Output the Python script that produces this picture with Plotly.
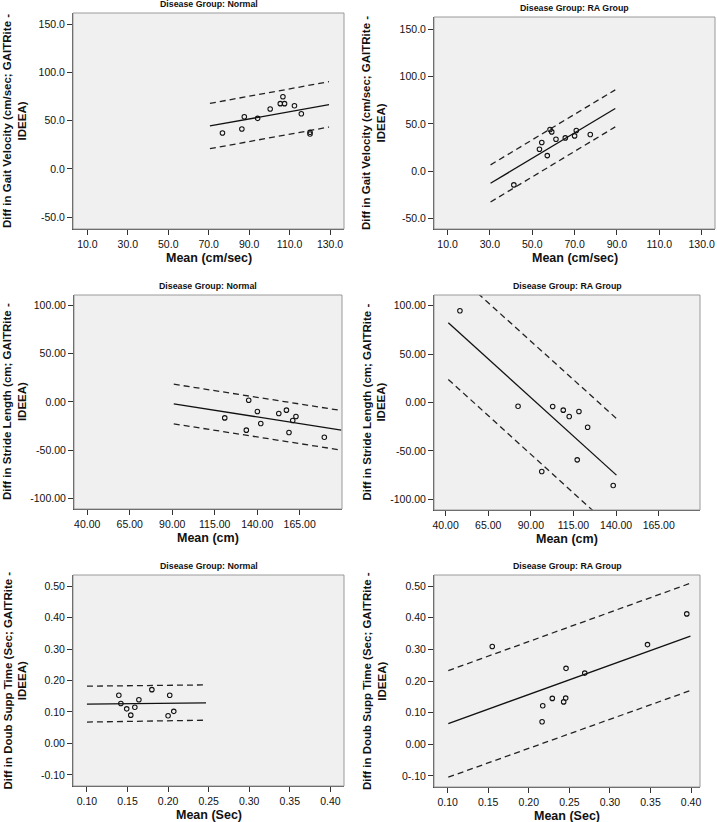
import plotly.graph_objects as go

W, H = 717, 822

# ---------------- data ----------------
# Panel 1: Gait velocity, Normal
gv_norm_x = [76.8, 86.4, 87.6, 94.2, 100.4, 105.4, 106.7, 107.5, 112.4, 115.8, 120.1, 120.1]
gv_norm_y = [37.2, 41.4, 54.1, 52.4, 62.1, 67.6, 74.8, 67.6, 65.5, 57.2, 37.9, 36.2]
gv_norm_fit_x = [70.6, 129.5]
gv_norm_fit_y = [44.5, 66.6]
gv_norm_up_y = [67.9, 90.3]
gv_norm_lo_y = [21.0, 43.4]

# Panel 2: Gait velocity, RA
gv_ra_x = [41.3, 53.4, 54.5, 57.1, 58.4, 59.2, 61.2, 65.6, 70.0, 70.8, 77.4]
gv_ra_y = [-14.4, 23.2, 30.3, 16.5, 44.0, 41.5, 33.8, 35.2, 37.3, 43.0, 38.7]
gv_ra_fit_x = [30.3, 89.2]
gv_ra_fit_y = [-12.7, 66.2]
gv_ra_up_y = [6.7, 85.9]
gv_ra_lo_y = [-32.4, 46.8]

# Panel 3: Stride length, Normal
sl_norm_x = [120.9, 133.6, 135.0, 140.1, 142.1, 152.7, 157.2, 158.7, 160.9, 162.8, 179.5]
sl_norm_y = [-16.6, -29.3, 1.7, -10.0, -22.4, -12.1, -8.6, -31.7, -19.3, -15.2, -36.6]
sl_norm_fit_x = [90.9, 189.5]
sl_norm_fit_y = [-2.1, -29.3]
sl_norm_up_y = [18.3, -9.0]
sl_norm_lo_y = [-22.8, -50.0]

# Panel 4: Stride length, RA
sl_ra_x = [48.4, 82.5, 96.4, 102.8, 109.0, 112.5, 117.2, 118.2, 123.3, 138.3]
sl_ra_y = [94.7, -3.8, -71.3, -4.1, -7.9, -14.5, -59.2, -9.3, -25.5, -85.7]
sl_ra_fit_x = [41.6, 140.2]
sl_ra_fit_y = [82.3, -75.0]
sl_ra_up_y = [140.2, -16.5]
sl_ra_lo_y = [23.8, -133.7]

# Panel 5: Double support time, Normal
ds_norm_x = [0.1393, 0.1418, 0.149, 0.154, 0.159, 0.164, 0.180, 0.200, 0.202, 0.207]
ds_norm_y = [0.1534, 0.127, 0.110, 0.090, 0.115, 0.139, 0.171, 0.088, 0.153, 0.102]
ds_norm_fit_x = [0.100, 0.2467]
ds_norm_fit_y = [0.125, 0.129]
ds_norm_up_y = [0.182, 0.186]
ds_norm_lo_y = [0.068, 0.074]

# Panel 6: Double support time, RA
ds_ra_x = [0.155, 0.2164, 0.2172, 0.229, 0.243, 0.2455, 0.2459, 0.269, 0.3463, 0.3947]
ds_ra_y = [0.309, 0.071, 0.122, 0.145, 0.134, 0.146, 0.240, 0.225, 0.315, 0.412]
ds_ra_fit_x = [0.1008, 0.3992]
ds_ra_fit_y = [0.0656, 0.342]
ds_ra_up_y = [0.233, 0.509]
ds_ra_lo_y = [-0.104, 0.170]

# tick labels
gv_xticks = [10, 30, 50, 70, 90, 110, 130]
gv_xlabels = ["10.0", "30.0", "50.0", "70.0", "90.0", "110.0", "130.0"]
gv_yticks = [-50, 0, 50, 100, 150]
gv_ylabels = ["-50.0", "0.0", "50.0", "100.0", "150.0"]
sl_xticks = [40, 65, 90, 115, 140, 165]
sl_xlabels = ["40.00", "65.00", "90.00", "115.00", "140.00", "165.00"]
sl_yticks = [-100, -50, 0, 50, 100]
sl_ylabels = ["-100.00", "-50.00", "0.00", "50.00", "100.00"]
ds_xticks = [0.10, 0.15, 0.20, 0.25, 0.30, 0.35, 0.40]
ds_xlabels = ["0.10", "0.15", "0.20", "0.25", "0.30", "0.35", "0.40"]
ds_yticks = [-0.10, 0.0, 0.10, 0.20, 0.30, 0.40, 0.50]
ds_ylabels_norm = ["-0.10", "0.00", "0.10", "0.20", "0.30", "0.40", "0.50"]
ds_ylabels_ra = ["0-.10", "0.00", "0.10", "0.20", "0.30", "0.40", "0.50"]

titles = ["Disease Group: Normal", "Disease Group: RA Group"]
gv_ytitle = "Diff in Gait Velocity (cm/sec; GAITRite -<br>IDEEA)"
sl_ytitle = "Diff in Stride Length (cm; GAITRite -<br>IDEEA)"
ds_ytitle = "Diff in Doub Supp Time (Sec; GAITRite -<br>IDEEA)"
gv_xtitle = "Mean (cm/sec)"
sl_xtitle = "Mean (cm)"
ds_xtitle = "Mean (Sec)"

# ---------------- layout ----------------
panels = [
    dict(px=(73, 344), py=(13, 229), xr=(2.9, 136.9), yr=(-62.1, 161.4), ytx=15,
         x=gv_norm_x, y=gv_norm_y, fx=gv_norm_fit_x, fy=gv_norm_fit_y, up=gv_norm_up_y, lo=gv_norm_lo_y,
         xt=gv_xticks, xl=gv_xlabels, yt=gv_yticks, yl=gv_ylabels, title=titles[0],
         ytitle=gv_ytitle, xtitle=gv_xtitle),
    dict(px=(434, 715), py=(17, 229), xr=(3.6, 136.3), yr=(-60.9, 162.7), ytx=374,
         x=gv_ra_x, y=gv_ra_y, fx=gv_ra_fit_x, fy=gv_ra_fit_y, up=gv_ra_up_y, lo=gv_ra_lo_y,
         xt=gv_xticks, xl=gv_xlabels, yt=gv_yticks, yl=gv_ylabels, title=titles[1],
         ytitle=gv_ytitle, xtitle=gv_xtitle),
    dict(px=(74, 342), py=(295, 509), xr=(32.2, 189.9), yr=(-111.0, 110.7), ytx=15,
         x=sl_norm_x, y=sl_norm_y, fx=sl_norm_fit_x, fy=sl_norm_fit_y, up=sl_norm_up_y, lo=sl_norm_lo_y,
         xt=sl_xticks, xl=sl_xlabels, yt=sl_yticks, yl=sl_ylabels, title=titles[0],
         ytitle=sl_ytitle, xtitle=sl_xtitle),
    dict(px=(434, 700), py=(295, 510), xr=(33.2, 189.2), yr=(-111.0, 111.0), ytx=374,
         x=sl_ra_x, y=sl_ra_y, fx=sl_ra_fit_x, fy=sl_ra_fit_y, up=sl_ra_up_y, lo=sl_ra_lo_y,
         xt=sl_xticks, xl=sl_xlabels, yt=sl_yticks, yl=sl_ylabels, title=titles[1],
         ytitle=sl_ytitle, xtitle=sl_xtitle),
    dict(px=(73, 344), py=(575, 786), xr=(0.0828, 0.4168), yr=(-0.135, 0.535), ytx=15,
         x=ds_norm_x, y=ds_norm_y, fx=ds_norm_fit_x, fy=ds_norm_fit_y, up=ds_norm_up_y, lo=ds_norm_lo_y,
         xt=ds_xticks, xl=ds_xlabels, yt=ds_yticks, yl=ds_ylabels_norm, title=titles[0],
         ytitle=ds_ytitle, xtitle=ds_xtitle),
    dict(px=(434, 700), py=(575, 787), xr=(0.0832, 0.411), yr=(-0.135, 0.535), ytx=374,
         x=ds_ra_x, y=ds_ra_y, fx=ds_ra_fit_x, fy=ds_ra_fit_y, up=ds_ra_up_y, lo=ds_ra_lo_y,
         xt=ds_xticks, xl=ds_xlabels, yt=ds_yticks, yl=ds_ylabels_ra, title=titles[1],
         ytitle=ds_ytitle, xtitle=ds_xtitle),
]

FONT = "Liberation Sans, Arial, sans-serif"
fig = go.Figure()
layout = dict(
    template="none",
    width=W, height=H, margin=dict(l=0, r=0, t=0, b=0, autoexpand=False),
    paper_bgcolor="white", plot_bgcolor="#F0F0F0", showlegend=False,
    font=dict(family=FONT, color="#111"),
)
annotations = []
shapes = []

for i, p in enumerate(panels, start=1):
    xa = "x" if i == 1 else f"x{i}"
    ya = "y" if i == 1 else f"y{i}"
    xkey = "xaxis" if i == 1 else f"xaxis{i}"
    ykey = "yaxis" if i == 1 else f"yaxis{i}"
    x0, x1 = p["px"][0] / W, p["px"][1] / W
    y0, y1 = 1 - p["py"][1] / H, 1 - p["py"][0] / H
    layout[xkey] = dict(
        domain=[x0, x1], range=list(p["xr"]), anchor=ya, automargin=False,
        tickvals=p["xt"], ticktext=p["xl"], ticks="outside", ticklen=5, tickcolor="#333", tickwidth=1,
        showgrid=False, zeroline=False, showline=True, linecolor="#444", linewidth=1,
        tickfont=dict(size=10.5, family=FONT, color="#111"),
    )
    layout[ykey] = dict(
        domain=[y0, y1], range=list(p["yr"]), anchor=xa, automargin=False,
        tickvals=p["yt"], ticktext=p["yl"], ticks="outside", ticklen=5, tickcolor="#333", tickwidth=1,
        showgrid=False, zeroline=False, showline=True, linecolor="#444", linewidth=1,
        tickfont=dict(size=10.5, family=FONT, color="#111"),
    )
    # light frame top/right
    shapes.append(dict(type="rect", xref=f"{xa} domain", yref=f"{ya} domain",
                       x0=0, x1=1, y0=0, y1=1, line=dict(color="#9a9a9a", width=1), layer="above"))
    # panel title
    annotations.append(dict(text=f"<b>{p['title']}</b>", xref=f"{xa} domain", yref=f"{ya} domain",
                            x=0.5, y=1.0, yshift=2, xanchor="center", yanchor="bottom", showarrow=False,
                            font=dict(size=8.8, family=FONT, color="#111")))
    # x title
    annotations.append(dict(text=f"<b>{p['xtitle']}</b>", xref="paper", yref="paper",
                            x=(p["px"][0] + p["px"][1]) / 2 / W, y=1 - (p["py"][1] + 29) / H,
                            xanchor="center", yanchor="middle", showarrow=False,
                            font=dict(size=12.5, family=FONT, color="#111")))
    # y title
    annotations.append(dict(text=f"<b>{p['ytitle']}</b>", xref="paper", yref="paper",
                            x=p["ytx"] / W, y=1 - (p["py"][0] + p["py"][1]) / 2 / H,
                            xanchor="center", yanchor="middle", textangle=-90, showarrow=False,
                            font=dict(size=11.5, family=FONT, color="#111")))
    # traces
    fig.add_trace(go.Scatter(x=p["fx"], y=p["up"], mode="lines", xaxis=xa, yaxis=ya,
                             line=dict(color="#222", width=1.3, dash="6px,4px"), hoverinfo="skip"))
    fig.add_trace(go.Scatter(x=p["fx"], y=p["lo"], mode="lines", xaxis=xa, yaxis=ya,
                             line=dict(color="#222", width=1.3, dash="6px,4px"), hoverinfo="skip"))
    fig.add_trace(go.Scatter(x=p["fx"], y=p["fy"], mode="lines", xaxis=xa, yaxis=ya,
                             line=dict(color="#111", width=1.3), hoverinfo="skip"))
    fig.add_trace(go.Scatter(x=p["x"], y=p["y"], mode="markers", xaxis=xa, yaxis=ya,
                             marker=dict(symbol="circle-open", size=4.5, color="#111", line=dict(width=1.1))))

layout["annotations"] = annotations
layout["shapes"] = shapes
fig.update_layout(**layout)
fig.write_html("out.html", config={"displayModeBar": False},
               post_script="document.body.style.margin='0px';document.body.style.padding='0px';document.body.style.overflow='hidden';")
